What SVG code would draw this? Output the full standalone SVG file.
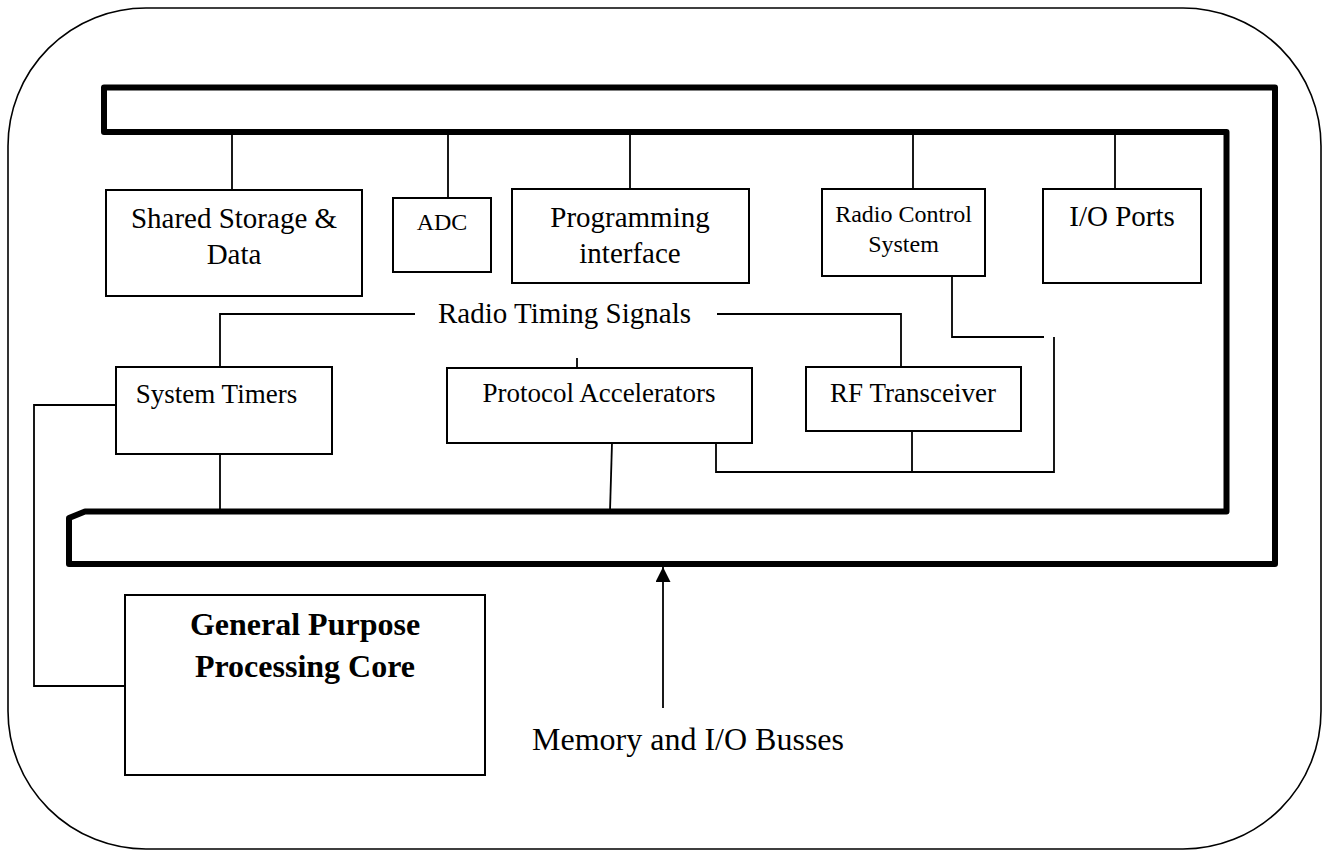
<svg xmlns="http://www.w3.org/2000/svg" width="1328" height="855" viewBox="0 0 1328 855">
<style>
.box{fill:#fff;stroke:#000;stroke-width:2}
.ln{fill:none;stroke:#000;stroke-width:1.8}
.bus{fill:none;stroke:#000;stroke-width:6;stroke-linejoin:round}
text{font-family:"Liberation Serif","Times New Roman",serif;fill:#000;text-anchor:middle}
.t29{font-size:29px}
.t27{font-size:27px}
.t24{font-size:24px}
.t32{font-size:32px}
.b{font-weight:bold}
</style>
<defs>
<marker id="ah" viewBox="0 0 10 10" refX="10" refY="5" markerWidth="15" markerHeight="15" markerUnits="userSpaceOnUse" orient="auto">
<path d="M0,0 L10,5 L0,10 z" fill="#000"/>
</marker>
</defs>
<rect id="frame" x="8" y="8" width="1313" height="841" rx="138" ry="138" fill="none" stroke="#000" stroke-width="1.6"/>
<g id="bus">
<path class="bus" d="M104,87.5 L1275,87.5 L1275,564 L69,564 L69,518 L85,511.5 L1226.5,511.5 L1226.5,132 L104,132 Z"/>
</g>
<g id="connectors">
<line class="ln" x1="232" y1="132" x2="232" y2="190"/>
<line class="ln" x1="448" y1="132" x2="448" y2="198"/>
<line class="ln" x1="630" y1="132" x2="630" y2="189"/>
<line class="ln" x1="913" y1="132" x2="913" y2="189"/>
<line class="ln" x1="1115" y1="132" x2="1115" y2="189"/>
<polyline class="ln" points="952,276 952,337 1044,337"/>
<polyline class="ln" points="716,443 716,472 1054,472 1054,337"/>
<line class="ln" x1="912" y1="431" x2="912" y2="472"/>
<polyline class="ln" points="415,314 220,314 220,367"/>
<polyline class="ln" points="717,314 901,314 901,367"/>
<line class="ln" x1="577" y1="358" x2="577" y2="368"/>
<line class="ln" x1="220" y1="454" x2="220" y2="511"/>
<line class="ln" x1="612" y1="443" x2="610" y2="511"/>
<polyline class="ln" points="116,405 34,405 34,686 125,686"/>
<line class="ln" x1="663" y1="708" x2="663" y2="567" marker-end="url(#ah)"/>
</g>
<g id="shared-storage">
<rect class="box" x="106" y="190" width="256" height="106"/>
<text class="t29" x="234" y="228">Shared Storage &amp;</text>
<text class="t29" x="234" y="264">Data</text>
</g>
<g id="adc">
<rect class="box" x="393" y="198" width="98" height="74"/>
<text class="t24" x="442" y="230">ADC</text>
</g>
<g id="programming-interface">
<rect class="box" x="512" y="189" width="237" height="94"/>
<text class="t29" x="630" y="227">Programming</text>
<text class="t29" x="630" y="263">interface</text>
</g>
<g id="radio-control">
<rect class="box" x="822" y="189" width="163" height="87"/>
<text class="t24" x="903.5" y="222">Radio Control</text>
<text class="t24" x="903.5" y="252">System</text>
</g>
<g id="io-ports">
<rect class="box" x="1043" y="189" width="158" height="94"/>
<text class="t29" x="1122" y="226">I/O Ports</text>
</g>
<text id="radio-timing" class="t29" x="564.5" y="323">Radio Timing Signals</text>
<g id="system-timers">
<rect class="box" x="116" y="367" width="216" height="87"/>
<text class="t27" x="216.5" y="403">System Timers</text>
</g>
<g id="protocol-accelerators">
<rect class="box" x="447" y="368" width="305" height="75"/>
<text class="t27" x="599" y="402">Protocol Accelerators</text>
</g>
<g id="rf-transceiver">
<rect class="box" x="806" y="367" width="215" height="64"/>
<text class="t27" x="913" y="402">RF Transceiver</text>
</g>
<g id="gp-core">
<rect class="box" x="125" y="595" width="360" height="180"/>
<text class="t32 b" x="305" y="635">General Purpose</text>
<text class="t32 b" x="305" y="677">Processing Core</text>
</g>
<text id="bus-label" class="t32" x="688" y="750">Memory and I/O Busses</text>
</svg>
